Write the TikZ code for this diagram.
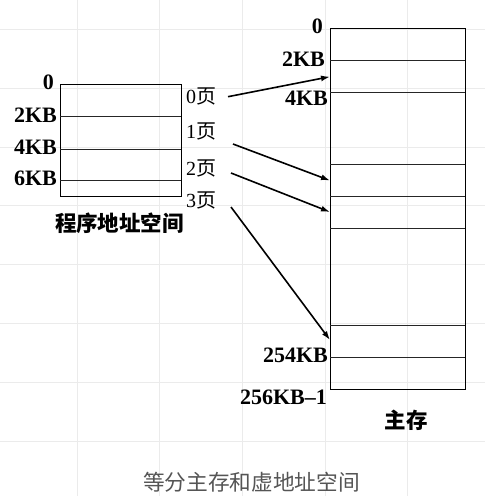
\documentclass[tikz,border=0pt]{standalone}
\usepackage{fontspec}
\setmainfont{Liberation Serif}
\newfontfamily\cjk{Noto Sans CJK SC}
\usetikzlibrary{arrows.meta}
\definecolor{gridc}{HTML}{EBEBEB}
\definecolor{capc}{HTML}{555555}
\tikzset{
  gridline/.style={draw=gridc, line width=1pt},
  boxline/.style={draw=black, line width=1pt},
  rowline/.style={draw=black!85, line width=1pt},
  addr/.style={anchor=base east, inner sep=0pt, font=\fontsize{22}{22}\selectfont\bfseries},
  pagelbl/.style={anchor=base west, inner sep=0pt, font=\fontsize{20}{20}\selectfont},
  title/.style={inner sep=0pt, font=\fontsize{21.5}{22}\selectfont\cjk\bfseries},
  caption/.style={inner sep=0pt, text=capc, font=\fontsize{21.7}{22}\selectfont\cjk},
  maparrow/.style={draw=black, line width=1.6pt, -{Latex[length=9pt,width=6pt]}}
}
\begin{document}
\begin{tikzpicture}[x=1pt,y=-1pt]
\useasboundingbox (0,0) rectangle (485,496);
% background grid
\foreach \gx in {77,159.5,242,325,407.5} \draw[gridline] (\gx,0) -- (\gx,496);
\foreach \gy in {29,88,147,205,264,323,382,441} \draw[gridline] (0,\gy) -- (485,\gy);

% program address space box
\draw[boxline] (60,84.3) rectangle (181,196.7);
\foreach \ry in {116.7,149,180.7} \draw[rowline] (60,\ry) -- (181,\ry);
\node[addr] (l0) at (54,89) {0};
\node[addr] (l2) at (57,122.3) {2KB};
\node[addr] (l4) at (57,154.3) {4KB};
\node[addr] (l6) at (57,185) {6KB};
\node[title] (ptitle) at (119.5,223) {程序地址空间};

% page labels
\node[pagelbl] (p0) at (186,103.3) {0{\cjk 页}};
\node[pagelbl] (p1) at (186,138.3) {1{\cjk 页}};
\node[pagelbl] (p2) at (186,175) {2{\cjk 页}};
\node[pagelbl] (p3) at (186,207.7) {3{\cjk 页}};

% main memory box
\draw[boxline] (330,28.3) rectangle (465,389);
\foreach \ry in {60.3,92,164.3,196.7,228.7,325.3,357.3} \draw[rowline] (330,\ry) -- (465,\ry);
\node[addr] (m0) at (323,33.3) {0};
\node[addr] (m2) at (325,66.7) {2KB};
\node[addr] (m4) at (328,105.3) {4KB};
\node[addr] (m254) at (328,362.7) {254KB};
\node[addr] (m256) at (327,404) {256KB–1};
\node[title] (mtitle) at (406,420) {主存};

% arrow end points
\coordinate (s0) at (228,96.7);
\coordinate (s1) at (233,144);
\coordinate (s2) at (231,173);
\coordinate (s3) at (231,207);
\coordinate (t0) at (330,76.7);
\coordinate (t1) at (330,180.5);
\coordinate (t2) at (330,212);
\coordinate (t3) at (330,340);
\draw[maparrow] (s0) -- (t0);
\draw[maparrow] (s1) -- (t1);
\draw[maparrow] (s2) -- (t2);
\draw[maparrow] (s3) -- (t3);

\node[caption] (cap) at (251.5,482) {等分主存和虚地址空间};
\end{tikzpicture}
\end{document}
